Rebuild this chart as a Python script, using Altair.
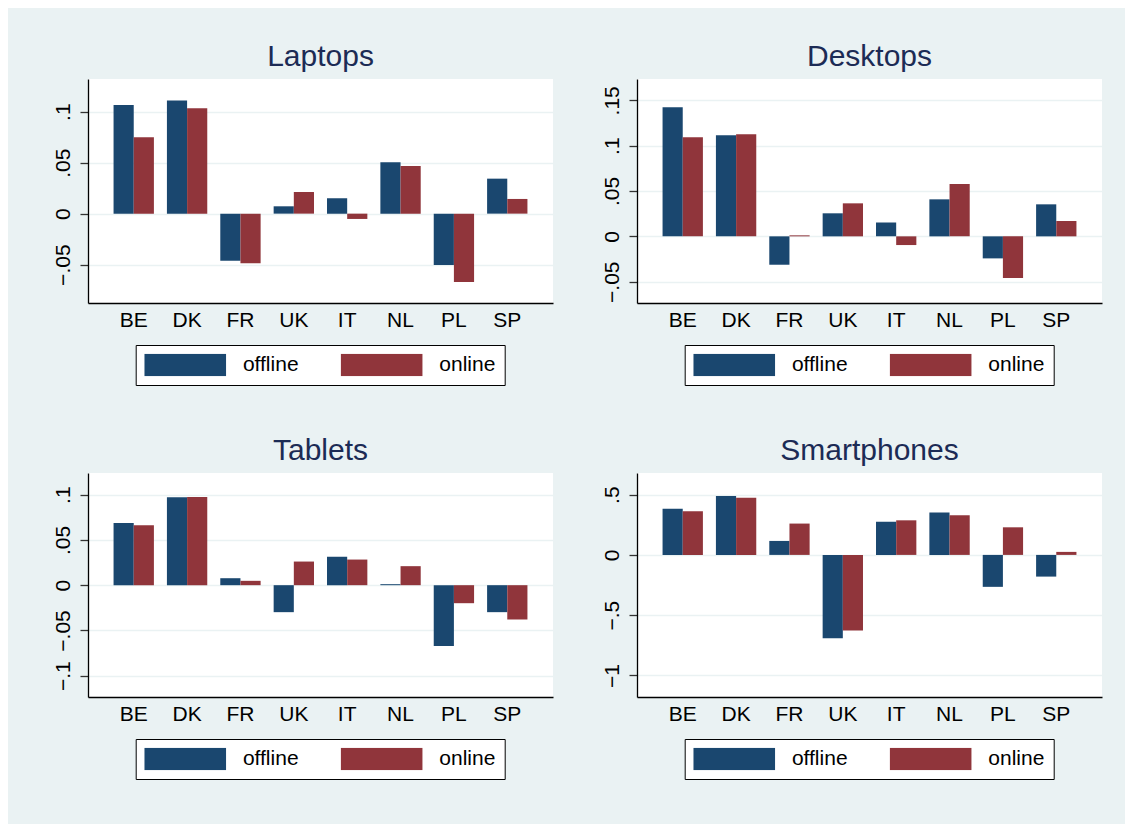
import altair as alt
import pandas as pd

countries = ["BE", "DK", "FR", "UK", "IT", "NL", "PL", "SP"]
series_names = ["offline", "online"]

laptops_offline = [0.1065, 0.111, -0.0461, 0.0072, 0.015, 0.0503, -0.0503, 0.0343]
laptops_online = [0.0748, 0.1033, -0.0487, 0.0212, -0.0052, 0.0467, -0.067, 0.0144]
desktops_offline = [0.1423, 0.1114, -0.0313, 0.0254, 0.0154, 0.0408, -0.0243, 0.0353]
desktops_online = [0.1092, 0.1125, 0.0011, 0.0364, -0.0096, 0.0577, -0.046, 0.0169]
tablets_offline = [0.0688, 0.0971, 0.0077, -0.0298, 0.0313, 0.0011, -0.0673, -0.0298]
tablets_online = [0.0662, 0.0974, 0.0048, 0.0261, 0.0283, 0.021, -0.0199, -0.0379]
smart_offline = [0.384, 0.489, 0.116, -0.691, 0.276, 0.351, -0.265, -0.18]
smart_online = [0.362, 0.475, 0.26, -0.627, 0.287, 0.329, 0.229, 0.025]

laptops_ticks = [-0.05, 0, 0.05, 0.1]
desktops_ticks = [-0.05, 0, 0.05, 0.1, 0.15]
tablets_ticks = [-0.1, -0.05, 0, 0.05, 0.1]
smart_ticks = [-1, -0.5, 0, 0.5]

laptops_domain = [-0.0876, 0.132]
desktops_domain = [-0.0735, 0.1735]
tablets_domain = [-0.1235, 0.1239]
smart_domain = [-1.179, 0.6796]

NAVY = "#1A476F"
MAROON = "#90353B"
BG = "#EAF2F3"
TITLE_COLOR = "#1C2B55"
FONT = "Liberation Sans"

label_expr = ("datum.value == 0 ? '0' : "
              "replace(replace(format(datum.value, '~g'), '0.', '.'), '-', '\u2212')")

swatch_path = "M-1,-0.273L1,-0.273L1,0.273L-1,0.273Z"


def panel(title, off, on, domain, ticks):
    df = pd.DataFrame({
        "country": countries * 2,
        "series": [series_names[0]] * len(countries) + [series_names[1]] * len(countries),
        "value": off + on,
    })
    return alt.Chart(
        df,
        title=alt.TitleParams(
            text=title, fontSize=30, font=FONT, color=TITLE_COLOR,
            fontWeight="normal", anchor="middle", frame="group",
            offset=-17, baseline="alphabetic",
        ),
    ).mark_bar().encode(
        x=alt.X(
            "country:N", sort=countries,
            scale=alt.Scale(paddingInner=0.244, paddingOuter=0.479),
            axis=alt.Axis(
                title=None, labelAngle=0, ticks=False, tickSize=0, labelPadding=6,
                labelFontSize=21, labelFont=FONT, labelColor="black",
                domainColor="black", domainWidth=1.3, grid=False,
            ),
        ),
        xOffset=alt.XOffset(
            "series:N", sort=series_names,
            scale=alt.Scale(paddingInner=0, paddingOuter=0),
        ),
        y=alt.Y(
            "value:Q",
            scale=alt.Scale(domain=domain, nice=False, zero=False),
            axis=alt.Axis(
                title=None, values=ticks, labelAngle=270, labelAlign="center",
                labelBaseline="alphabetic", labelPadding=11, tickSize=8,
                tickColor="#333333", tickWidth=1.3, grid=True, gridColor=BG,
                gridWidth=1.6, labelExpr=label_expr, domainColor="black",
                domainWidth=1.3, labelFontSize=21, labelFont=FONT,
                labelColor="black",
            ),
        ),
        y2=alt.datum(0),
        color=alt.Color(
            "series:N",
            scale=alt.Scale(domain=series_names, range=[NAVY, MAROON]),
            legend=alt.Legend(
                orient="none", legendX=47.7, legendY=266, direction="horizontal",
                title=None, strokeColor="black", fillColor="white", padding=8.5,
                symbolType=swatch_path, symbolSize=6675, symbolStrokeWidth=0,
                symbolOpacity=1, labelFontSize=21, labelFont=FONT,
                labelColor="black", labelOffset=16.7, columnPadding=41.4,
                clipHeight=22.3, labelLimit=300,
            ),
        ),
    ).properties(width=465, height=224)


p1 = panel("Laptops", laptops_offline, laptops_online, laptops_domain, laptops_ticks)
p2 = panel("Desktops", desktops_offline, desktops_online, desktops_domain, desktops_ticks)
p3 = panel("Tablets", tablets_offline, tablets_online, tablets_domain, tablets_ticks)
p4 = panel("Smartphones", smart_offline, smart_online, smart_domain, smart_ticks)

chart = alt.concat(
    p1, p2, p3, p4, columns=2, spacing={"row": 170, "column": 84}, bounds="flush"
).resolve_scale(
    y="independent", color="independent"
).resolve_legend(
    color="independent"
).properties(
    padding={"left": 43, "top": 34, "right": 23, "bottom": 58},
    background=BG,
).configure_view(
    fill="white", strokeWidth=0
)

chart.save("out.html", embed_options={"renderer": "svg", "actions": False})
